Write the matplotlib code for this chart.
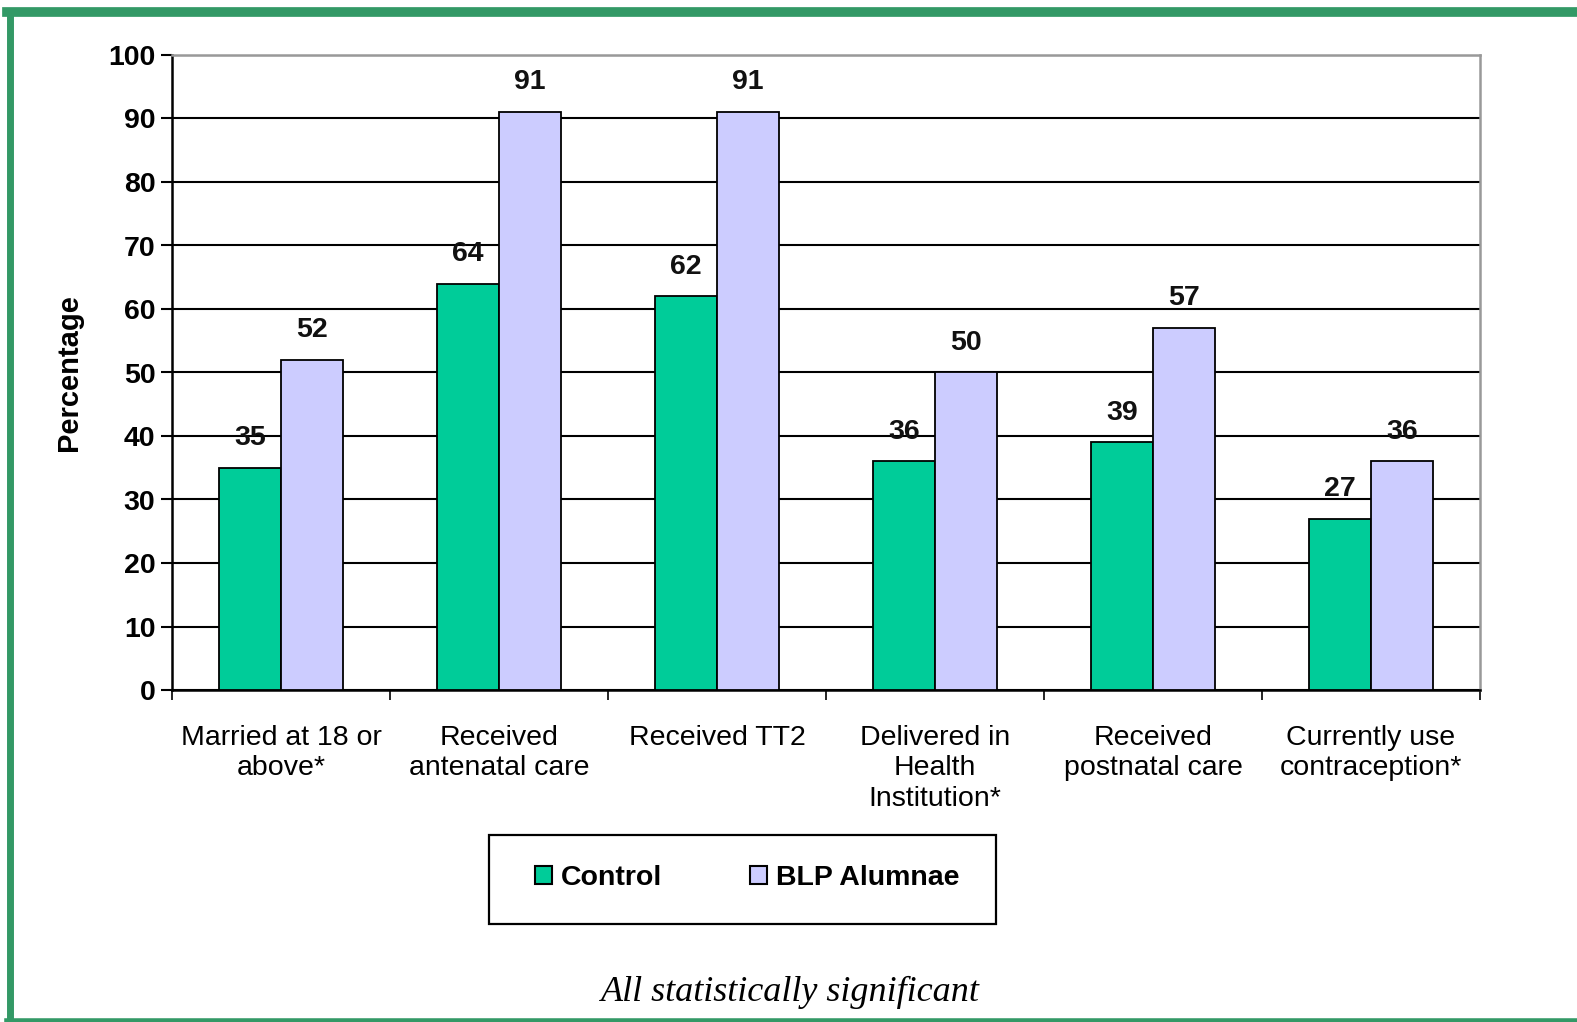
import matplotlib
matplotlib.use("Agg")
import matplotlib.pyplot as plt
import numpy as np
from matplotlib.patches import Patch, Rectangle
from matplotlib.lines import Line2D

categories = ["Married at 18 or\nabove*", "Received\nantenatal care", "Received TT2",
              "Delivered in\nHealth\nInstitution*", "Received\npostnatal care",
              "Currently use\ncontraception*"]
control = [35, 64, 62, 36, 39, 27]
blp = [52, 91, 91, 50, 57, 36]
series_names = ["Control", "BLP Alumnae"]
colors = ["#00CC99", "#CCCCFF"]
yticks = list(range(0, 101, 10))

plt.rcParams['font.family'] = ['Liberation Sans', 'DejaVu Sans']

fig = plt.figure(figsize=(15.77, 10.22), dpi=100)

# green frame
green = "#339966"
fig.add_artist(Line2D([7/1577, 1.0], [1 - 12/1022]*2, transform=fig.transFigure, color=green, lw=7))
fig.add_artist(Line2D([10/1577]*2, [1 - 12/1022, 0], transform=fig.transFigure, color=green, lw=5))
fig.add_artist(Line2D([7/1577, 1.0], [1.5/1022]*2, transform=fig.transFigure, color=green, lw=4))

ax = fig.add_axes([172/1577, 1 - 690/1022, (1480-172)/1577, (690-55)/1022])

x = np.arange(len(categories))
w = 0.285
b1 = ax.bar(x - w/2, control, w, color=colors[0], edgecolor="black", linewidth=1.3, zorder=3, label=series_names[0])
b2 = ax.bar(x + w/2, blp, w, color=colors[1], edgecolor="black", linewidth=1.3, zorder=3, label=series_names[1])

for bars, vals in ((b1, control), (b2, blp)):
    for r, v in zip(bars, vals):
        ax.annotate(f"{v}", (r.get_x() + r.get_width()/2, v), xytext=(0, 12),
                    textcoords="offset points", ha="center", va="bottom",
                    fontsize=20.5, fontweight="bold", color="#111111")

ax.set_xlim(-0.5, len(categories) - 0.5)
ax.set_ylim(0, 100)
ax.set_yticks(yticks)
ax.set_yticklabels([str(t) for t in yticks], fontsize=20.5, fontweight="bold")
ax.yaxis.grid(True, color="black", linewidth=1.5, zorder=0)
ax.set_axisbelow(True)
ax.tick_params(axis="y", direction="out", length=8, width=1.5, pad=4)

ax.set_xticks(x)
ax.set_xticklabels(categories, fontsize=20.5, linespacing=1.22)
ax.tick_params(axis="x", length=0, pad=25)
ax.set_xticks(np.arange(-0.5, len(categories), 1), minor=True)
ax.tick_params(axis="x", which="minor", direction="out", length=7, width=1.2)

for s in ("left", "bottom"):
    ax.spines[s].set_linewidth(1.8)
    ax.spines[s].set_color("black")
for s in ("top", "right"):
    ax.spines[s].set_linewidth(1.8)
    ax.spines[s].set_color("#999999")

ax.set_ylabel("Percentage", fontsize=21, fontweight="bold", labelpad=18)

# legend box
fig.add_artist(Rectangle((489/1577, 1 - 924/1022), (996-489)/1577, (924-835)/1022,
                         transform=fig.transFigure, fill=False, edgecolor="black", linewidth=1.6))
handles = [Patch(facecolor=colors[0], edgecolor="black", linewidth=1.5),
           Patch(facecolor=colors[1], edgecolor="black", linewidth=1.5)]
leg = fig.legend(handles, series_names, loc="center left", bbox_to_anchor=(535/1577, 1 - 878/1022),
                 ncol=2, frameon=False,
                 prop={"size": 20.5, "weight": "bold"}, handlelength=0.6, handleheight=0.6,
                 handletextpad=0.3, columnspacing=3.1, borderpad=0, borderaxespad=0)

fig.text(790/1577, 1 - 992/1022, "All statistically significant", ha="center", va="center",
         fontsize=26, style="italic", family=["Liberation Serif", "DejaVu Serif"])

fig.savefig("out.png", dpi=100)
